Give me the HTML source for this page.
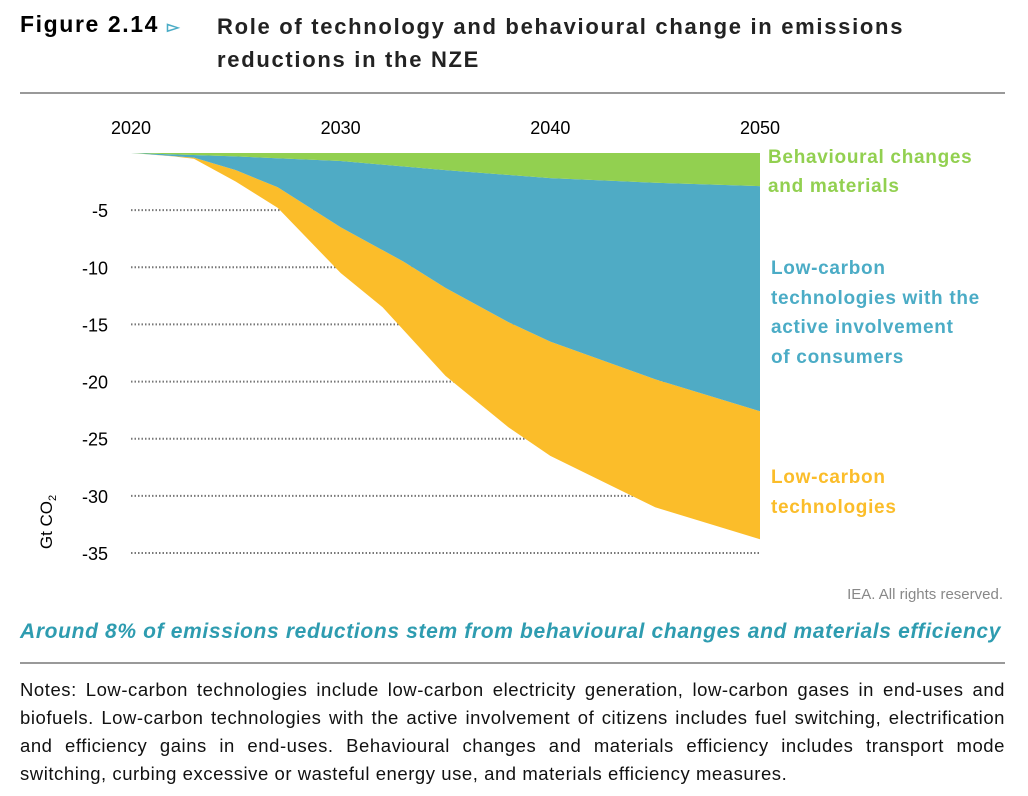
<!DOCTYPE html>
<html><head><meta charset="utf-8"><style>
body{margin:0;width:1028px;height:796px;background:#fff;font-family:"Liberation Sans",sans-serif;position:relative;overflow:hidden}
.abs{position:absolute}
</style></head><body>
<div class="abs" style="left:20px;top:11px;font-size:23px;font-weight:bold;letter-spacing:1.6px">Figure 2.14 <span style="color:#4bacc6;font-size:16px">▻</span></div>
<div class="abs" style="left:217px;top:10px;font-size:22px;font-weight:bold;line-height:33px;color:#222;letter-spacing:1.7px">Role of technology and behavioural change in emissions<br>reductions in the NZE</div>
<div class="abs" style="left:20px;top:92px;width:985px;height:2px;background:#999"></div>
<svg class="abs" style="left:0;top:0" width="1028" height="620">
<g id="grid"></g><g id="areas"></g><g id="labels"></g>
<text x="52" y="522" transform="rotate(-90 52 522)" font-size="17" text-anchor="middle">Gt CO<tspan font-size="11" dy="4">2</tspan></text>
</svg>
<div class="abs" style="left:768px;top:143px;font-size:19px;font-weight:bold;color:#92d050;line-height:29px;letter-spacing:0.7px">Behavioural changes<br>and materials</div>
<div class="abs" style="left:771px;top:254px;font-size:19px;font-weight:bold;color:#4bacc6;line-height:29.5px;letter-spacing:0.7px">Low-carbon<br>technologies with the<br>active involvement<br>of consumers</div>
<div class="abs" style="left:771px;top:463px;font-size:19px;font-weight:bold;color:#fbbd2a;line-height:29.5px;letter-spacing:0.7px">Low-carbon<br>technologies</div>
<div class="abs" style="left:760px;top:586px;width:243px;text-align:right;font-size:15px;color:#888">IEA. All rights reserved.</div>
<div class="abs" style="left:20px;top:620px;font-size:21px;font-weight:bold;font-style:italic;color:#2e9cb0;letter-spacing:0.65px;white-space:nowrap">Around 8% of emissions reductions stem from behavioural changes and materials efficiency</div>
<div class="abs" style="left:20px;top:662px;width:985px;height:2px;background:#999"></div>
<div class="abs" style="left:20px;top:676px;width:985px;font-size:18.5px;line-height:28px;text-align:justify;color:#111;letter-spacing:0.55px">Notes: Low-carbon technologies include low-carbon electricity generation, low-carbon gases in end-uses and biofuels. Low-carbon technologies with the active involvement of citizens includes fuel switching, electrification and efficiency gains in end-uses. Behavioural changes and materials efficiency includes transport mode switching, curbing excessive or wasteful energy use, and materials efficiency measures.</div>
<script>
const xTicks=[2020,2030,2040,2050];
const yTicks=[-5,-10,-15,-20,-25,-30,-35];
const yearsG=[2020,2025,2030,2035,2040,2045,2050];
const behavioural=[0,-0.3,-0.7,-1.5,-2.2,-2.6,-2.9];
const yearsB=[2020,2023,2025,2027,2030,2033,2035,2038,2040,2045,2050];
const consumerTech=[0,-0.4,-1.5,-3,-6.5,-9.5,-11.8,-14.8,-16.5,-19.8,-22.6];
const yearsY=[2020,2022,2023,2025,2027,2030,2032,2035,2038,2040,2045,2050];
const lowCarbon=[0,-0.3,-0.5,-2.5,-4.8,-10.5,-13.5,-19.5,-24,-26.5,-31,-33.8];
const X=y=>131+(y-2020)*(760-131)/30;
const Y=v=>153-v*(553-153)/35;
const NS="http://www.w3.org/2000/svg";
function mk(t,a,p){const e=document.createElementNS(NS,t);for(const k in a)e.setAttribute(k,a[k]);p.appendChild(e);return e;}
const grid=document.getElementById('grid'),areas=document.getElementById('areas'),labels=document.getElementById('labels');
yTicks.forEach(v=>{const l=mk('line',{x1:131,x2:760,y1:Y(v),y2:Y(v),stroke:'#777','stroke-width':2,'stroke-dasharray':'1.5 2'},grid);


const t=mk('text',{x:108,y:Y(v)+7,'font-size':18,'text-anchor':'end'},labels);t.textContent=v;

});
xTicks.forEach(y=>{const t=mk('text',{x:X(y),y:134,'font-size':18,'text-anchor':'middle'},labels);t.textContent=y;

});
function line(ys,vs){return ys.map((y,i)=>X(y)+','+Y(vs[i])).join(' ');}
function rev(ys,vs){return ys.map((y,i)=>X(y)+','+Y(vs[i])).reverse().join(' ');}
const py=mk('polygon',{points:line(yearsB,consumerTech)+' '+rev(yearsY,lowCarbon),fill:'#fbbd2a'},areas);


const pb=mk('polygon',{points:line(yearsG,behavioural)+' '+rev(yearsB,consumerTech),fill:'#4fabc5'},areas);


const pg=mk('polygon',{points:X(2020)+','+Y(0)+' '+X(2050)+','+Y(0)+' '+rev(yearsG,behavioural),fill:'#92d050'},areas);


</script>
</body></html>
